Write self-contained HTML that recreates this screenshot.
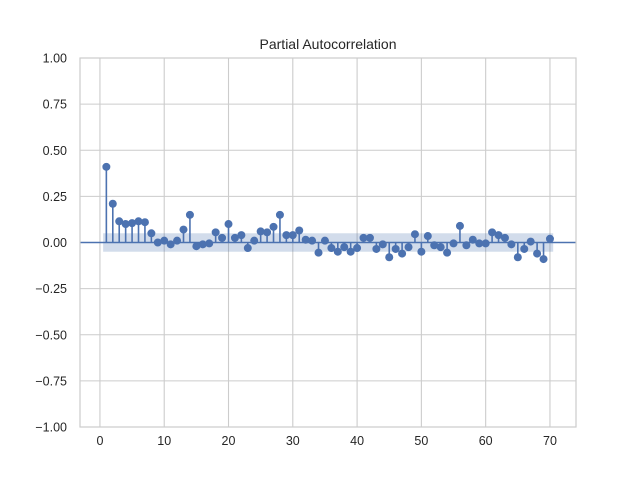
<!DOCTYPE html>
<html><head><meta charset="utf-8"><style>body{margin:0;background:#fff}svg{display:block;font-family:"Liberation Sans","DejaVu Sans",sans-serif}</style></head>
<body>
<svg id="chart" width="640" height="480" viewBox="0 0 640 480" xmlns="http://www.w3.org/2000/svg">
<rect width="640" height="480" fill="#fff"/>
<text x="328" y="49" text-anchor="middle" font-size="14" fill="#262626">Partial Autocorrelation</text>
<g id="grid"></g><g id="band"></g><g id="marks"></g><g id="ticks"></g>
<rect x="80" y="58" width="496" height="369" fill="none" stroke="#cccccc" stroke-width="1.2"/>
</svg>
<script>
const pacfValues=[0.41,0.21,0.115,0.10,0.105,0.115,0.11,0.05,0.0,0.01,-0.01,0.01,0.07,0.15,-0.02,-0.01,-0.005,0.055,0.025,0.10,0.025,0.04,-0.03,0.01,0.06,0.055,0.085,0.15,0.04,0.04,0.065,0.015,0.01,-0.055,0.01,-0.03,-0.05,-0.025,-0.05,-0.03,0.025,0.025,-0.035,-0.01,-0.08,-0.035,-0.06,-0.025,0.045,-0.05,0.035,-0.015,-0.025,-0.055,-0.005,0.09,-0.015,0.015,-0.005,-0.005,0.055,0.04,0.025,-0.01,-0.08,-0.035,0.005,-0.06,-0.09,0.02];
const confBound=0.05;
const xTicks=[0,10,20,30,40,50,60,70];
const yTicks=[-1,-0.75,-0.5,-0.25,0,0.25,0.5,0.75,1];
const yTickLabels=["−1.00","−0.75","−0.50","−0.25","0.00","0.25","0.50","0.75","1.00"];
const NS="http://www.w3.org/2000/svg";
const L=80,R=576,T=58,B=427,xMin=-3.1,xMax=74.05;
const xs=v=>L+(v-xMin)/(xMax-xMin)*(R-L);
const ys=v=>T+(1-v)/2*(B-T);
function mk(tag,parent,attrs){const e=document.createElementNS(NS,tag);for(const k in attrs)e.setAttribute(k,attrs[k]);document.getElementById(parent).appendChild(e);return e;}
xTicks.forEach(t=>{const l=mk('line','grid',{x1:xs(t),x2:xs(t),y1:T,y2:B,stroke:'#cccccc','stroke-width':1.1});


const tx=mk('text','ticks',{x:xs(t),y:B+18,'text-anchor':'middle','font-size':12.5,fill:'#262626'});tx.textContent=t;

});
yTicks.forEach((t,i)=>{const l=mk('line','grid',{x1:L,x2:R,y1:ys(t),y2:ys(t),stroke:'#cccccc','stroke-width':1.1});


const tx=mk('text','ticks',{x:L-13,y:ys(t)+4.5,'text-anchor':'end','font-size':12.5,fill:'#262626'});tx.textContent=yTickLabels[i];

});
const n=pacfValues.length;
const band=mk('rect','band',{x:xs(0.5),y:ys(confBound),width:xs(n+0.5)-xs(0.5),height:ys(-confBound)-ys(confBound),fill:'#4c72b0','fill-opacity':0.25});


const zl=mk('line','marks',{x1:L,x2:R,y1:ys(0),y2:ys(0),stroke:'#4c72b0','stroke-width':1.6});


pacfValues.forEach((v,i)=>{const lag=i+1;
const s=mk('line','marks',{x1:xs(lag),x2:xs(lag),y1:ys(0),y2:ys(v),stroke:'#4c72b0','stroke-width':1.6});


const c=mk('circle','marks',{cx:xs(lag),cy:ys(v),r:4,fill:'#4c72b0'});

});
</script>
</body></html>
